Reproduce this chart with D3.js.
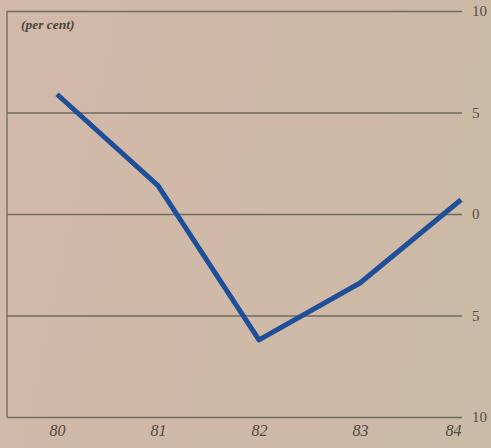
<!DOCTYPE html>
<html>
<head>
<meta charset="utf-8">
<script src="https://cdn.jsdelivr.net/npm/d3@7"></script>
<style>
  html, body { margin: 0; padding: 0; background: #d0bba8; }
  svg { display: block; }
</style>
</head>
<body>
<svg id="chart" width="491" height="448"></svg>
<script>
const years = ["80", "81", "82", "83", "84"];
const values = [5.9, 1.4, -6.2, -3.4, 0.7];
const yTicks = [10, 5, 0, -5, -10];
const unitLabel = "(per cent)";

const W = 491, H = 448;
const svg = d3.select("#chart");

const defs = svg.append("defs");
const grad = defs.append("linearGradient").attr("id", "bg")
  .attr("x1", "0").attr("y1", "0").attr("x2", "1").attr("y2", "0.2");
grad.append("stop").attr("offset", "0").attr("stop-color", "#d2b9a9");
grad.append("stop").attr("offset", "0.45").attr("stop-color", "#d1b9a8");
grad.append("stop").attr("offset", "1").attr("stop-color", "#cbbaa5");
svg.append("rect").attr("width", W).attr("height", H).attr("fill", "url(#bg)");

const x = d3.scalePoint().domain(years).range([57, 461]);
const y = d3.scaleLinear().domain([-10, 10]).range([417, 11]);
const left = 7, right = 462;
const gridColor = "#6c6b5c";

// gridlines + right labels
const yAxis = d3.axisRight(y).tickValues(yTicks)
  .tickSize(-(right - left)).tickPadding(10)
  .tickFormat(d => String(Math.abs(d)));
const gy = svg.append("g").attr("transform", `translate(${right},0)`).call(yAxis);
gy.select(".domain").remove();
gy.selectAll(".tick line").attr("stroke", gridColor).attr("stroke-width", 1.3);
gy.selectAll(".tick text")
  .attr("fill", "#55504a")
  .attr("font-family", "'Liberation Serif', 'DejaVu Serif', serif")
  .attr("font-size", 15)
  .attr("dy", "0.3em");

// left frame line
svg.append("line").attr("x1", left).attr("x2", left)
  .attr("y1", y(10)).attr("y2", y(-10))
  .attr("stroke", gridColor).attr("stroke-width", 1.3);

// x labels
const xAxis = d3.axisBottom(x).tickSize(0).tickPadding(0);
const gx = svg.append("g").attr("transform", `translate(0,${y(-10)})`).call(xAxis);
gx.select(".domain").remove();
gx.selectAll(".tick text")
  .attr("fill", "#4f4a44")
  .attr("font-family", "'Liberation Serif', 'DejaVu Serif', serif")
  .attr("font-style", "italic")
  .attr("font-size", 16)
  .attr("dy", "1.2em")
  .attr("dx", d => d === "84" ? -8 : 0);

// unit label
svg.append("text").attr("x", 21).attr("y", 29)
  .attr("fill", "#4a4640")
  .attr("font-family", "'Liberation Serif', 'DejaVu Serif', serif")
  .attr("font-style", "italic")
  .attr("font-weight", "bold")
  .attr("font-size", 13.5)
  .text(unitLabel);

// line
const line = d3.line().x((d, i) => x(years[i])).y(d => y(d));
svg.append("path").datum(values)
  .attr("d", line)
  .attr("fill", "none")
  .attr("stroke", "#1f4f98")
  .attr("stroke-width", 5)
  .attr("stroke-linejoin", "round");
</script>
</body>
</html>
